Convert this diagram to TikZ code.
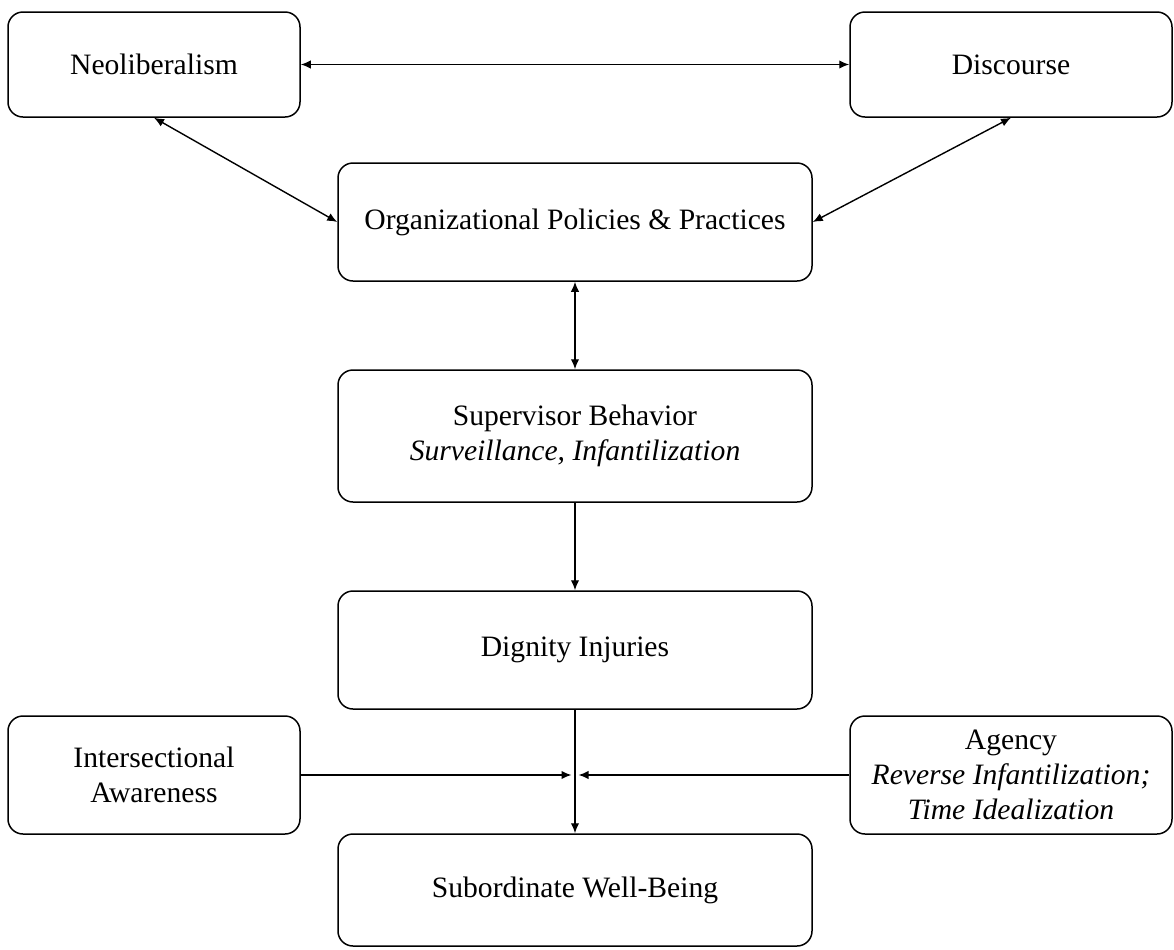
\documentclass[tikz,border=0pt]{standalone}
\usepackage{fontspec}
\setmainfont{Liberation Serif}
\usetikzlibrary{arrows.meta}
\begin{document}
\begin{tikzpicture}[x=0.5pt,y=-0.5pt,>={Latex[length=5pt,width=4.2pt]}, line join=round,
	box/.style={draw, line width=0.75pt, rounded corners=7.5pt, align=center, inner sep=2pt,
		font=\fontsize{14.8}{17.5}\selectfont},
	link/.style={line width=0.7pt}]
		\useasboundingbox (0,0) rectangle (1174,949);
		% Kh\'ung tr\^en
		\node[box, minimum width=146pt, minimum height=52.5pt] (neo) at (154,64.5) {Neoliberalism};
		\node[box, minimum width=161pt, minimum height=52.5pt] (disc) at (1011,64.5) {Discourse};
		% C\^ot gi\~ua
		\node[box, minimum width=237pt, minimum height=59pt] (org) at (575,222) {Organizational Policies \& Practices};
		\node[box, minimum width=237pt, minimum height=66pt] (sup) at (575,436) {Supervisor Behavior\\\textit{Surveillance, Infantilization}};
		\node[box, minimum width=237pt, minimum height=59pt] (dig) at (575,650) {Dignity Injuries};
		\node[box, minimum width=237pt, minimum height=56pt] (sub) at (575,890) {Subordinate Well-Being};
		% Hai b\^en
		\node[box, minimum width=146pt, minimum height=59pt] (inter) at (154,775) {Intersectional\\Awareness};
		\node[box, minimum width=161pt, minimum height=59pt] (agen) at (1011,775) {Agency\\\textit{Reverse Infantilization;}\\\textit{Time Idealization}};
		\coordinate (jl) at (571.5,775);
		\coordinate (jr) at (578.5,775);
		% M\~ui t\^en
		\draw[link,<->] (neo.east)--(disc.west);
		\draw[link,<->] (neo.south)--(org.west);
		\draw[link,<->] (disc.south)--(org.east);
		\draw[link,<->] (org.south)--(sup.north);
		\draw[link,->] (sup.south)--(dig.north);
		\draw[link,->] (dig.south)--(sub.north);
		\draw[link,->] (inter.east)--(jl);
		\draw[link,->] (agen.west)--(jr);
\end{tikzpicture}
\end{document}
